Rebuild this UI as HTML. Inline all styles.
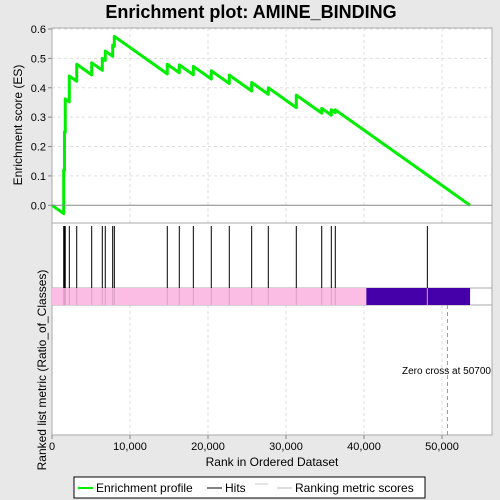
<!DOCTYPE html>
<html><head><meta charset="utf-8"><style>
body{margin:0;background:#e8e8e8;}
svg{display:block;font-family:"Liberation Sans",sans-serif;}
</style></head><body>
<svg id="chart" width="500" height="500">
<rect x="0" y="0" width="500" height="500" fill="#e8e8e8"/>
<text x="251" y="18" text-anchor="middle" font-size="18" font-weight="bold">Enrichment plot: AMINE_BINDING</text>
<rect x="52" y="28" width="440" height="407" fill="#fff" stroke="#aaa"/>
<g id="grid"></g>
<line x1="52" y1="223" x2="492" y2="223" stroke="#aaa"/>
<line x1="52" y1="288" x2="492" y2="288" stroke="#aaa"/>
<line x1="52" y1="305" x2="492" y2="305" stroke="#aaa"/>
<g id="bars"></g>
<g id="hits"></g>
<g id="curve"></g>
<g id="axes"></g>
<text x="22" y="125" text-anchor="middle" font-size="12" transform="rotate(-90 22 125)">Enrichment score (ES)</text>
<text x="46" y="370" text-anchor="middle" font-size="12" transform="rotate(-90 46 370)">Ranked list metric (Ratio_of_Classes)</text>
<text x="272" y="466" text-anchor="middle" font-size="12">Rank in Ordered Dataset</text>
<text x="402" y="374" font-size="10">Zero cross at 50700</text>
<g>
<rect x="74" y="477" width="351" height="21" fill="#fff" stroke="#000"/>
<line x1="78" y1="488" x2="93" y2="488" stroke="#00ee00" stroke-width="2"/>
<text x="96" y="492" font-size="12">Enrichment profile</text>
<line x1="207" y1="488" x2="222" y2="488" stroke="#000"/>
<text x="225" y="492" font-size="12">Hits</text>
<line x1="255" y1="484" x2="268" y2="484" stroke="#ccc"/>
<line x1="277" y1="488" x2="292" y2="488" stroke="#bbb"/>
<text x="295" y="492" font-size="12">Ranking metric scores</text>
</g>
</svg>
<script>
const hitRanks=[1500,1600,1700,2220,3170,5090,6450,6830,7780,7990,14780,16320,18120,20420,22730,25600,27730,31320,34580,35810,36320,48120];
const esPeaks=[0.12,0.25,0.362,0.44,0.48,0.485,0.50,0.525,0.545,0.575,0.48,0.478,0.473,0.458,0.443,0.418,0.40,0.375,0.33,0.325,0.325,0.103];
const xTicks=[0,10000,20000,30000,40000,50000];
const xTickLabels=["0","10,000","20,000","30,000","40,000","50,000"];
const yTicks=[0,0.1,0.2,0.3,0.4,0.5,0.6];
const yTickLabels=["0.0","0.1","0.2","0.3","0.4","0.5","0.6"];
const totalRank=53600, zeroCross=50700, posEnd=40300;
const ns="http://www.w3.org/2000/svg";
const X=r=>52+r*0.0078;
const Y=v=>205.3-v*(176.3/0.6);
function mk(tag,attrs,parent){const e=document.createElementNS(ns,tag);for(const k in attrs)e.setAttribute(k,attrs[k]);document.getElementById(parent).appendChild(e);return e;}
xTicks.forEach((t,i)=>{
 if(t>0){for(const [a,b] of [[28,223],[305,435]]){const g=mk('line',{x1:X(t),x2:X(t),y1:a,y2:b,stroke:'#ddd','stroke-dasharray':'3,3'},'grid');
 
 }}
 mk('line',{x1:X(t),x2:X(t),y1:435,y2:439,stroke:'#888'},'axes');
 const tx=mk('text',{x:X(t),y:450,'text-anchor':'middle','font-size':'11'},'axes');tx.textContent=xTickLabels[i];
 
 
});
yTicks.forEach((t,i)=>{
 if(t>0){const g=mk('line',{x1:52,x2:492,y1:Y(t),y2:Y(t),stroke:'#ddd','stroke-dasharray':'3,3'},'grid');
 
 }
 mk('line',{x1:48,x2:52,y1:Y(t),y2:Y(t),stroke:'#888'},'axes');
 const tx=mk('text',{x:46,y:Y(t)+4,'text-anchor':'end','font-size':'11'},'axes');tx.textContent=yTickLabels[i];
 
 
});
const z=mk('line',{x1:52,x2:492,y1:Y(0),y2:Y(0),stroke:'#888'},'axes');


const zc=mk('line',{x1:X(zeroCross),x2:X(zeroCross),y1:305,y2:435,stroke:'#999','stroke-dasharray':'4,3'},'axes');


const pb=mk('rect',{x:52,y:288,width:X(posEnd)-52,height:17,fill:'#fbbde3'},'bars');


const nb=mk('rect',{x:X(posEnd),y:288,width:X(totalRank)-X(posEnd),height:17,fill:'#4500aa'},'bars');


hitRanks.forEach(r=>{
 const h=mk('line',{x1:X(r),x2:X(r),y1:226,y2:288,stroke:'#000'},'hits');
 
 
 mk('line',{x1:X(r),x2:X(r),y1:288,y2:305,stroke:'#d9a0c4'},'hits');
});
const slope=esPeaks[esPeaks.length-1]/(totalRank-hitRanks[hitRanks.length-1]);
let pts=[[X(0),Y(0)]];let prevR=0,prevV=0;
hitRanks.forEach((r,i)=>{const before=prevV-slope*(r-prevR);pts.push([X(r),Y(before)]);pts.push([X(r),Y(esPeaks[i])]);prevR=r;prevV=esPeaks[i];});
pts.push([X(totalRank),Y(0)]);
const c=mk('polyline',{points:pts.map(p=>p.join(',')).join(' '),fill:'none',stroke:'#00ee00','stroke-width':'3','stroke-linejoin':'round'},'curve');


</script>
</body></html>
